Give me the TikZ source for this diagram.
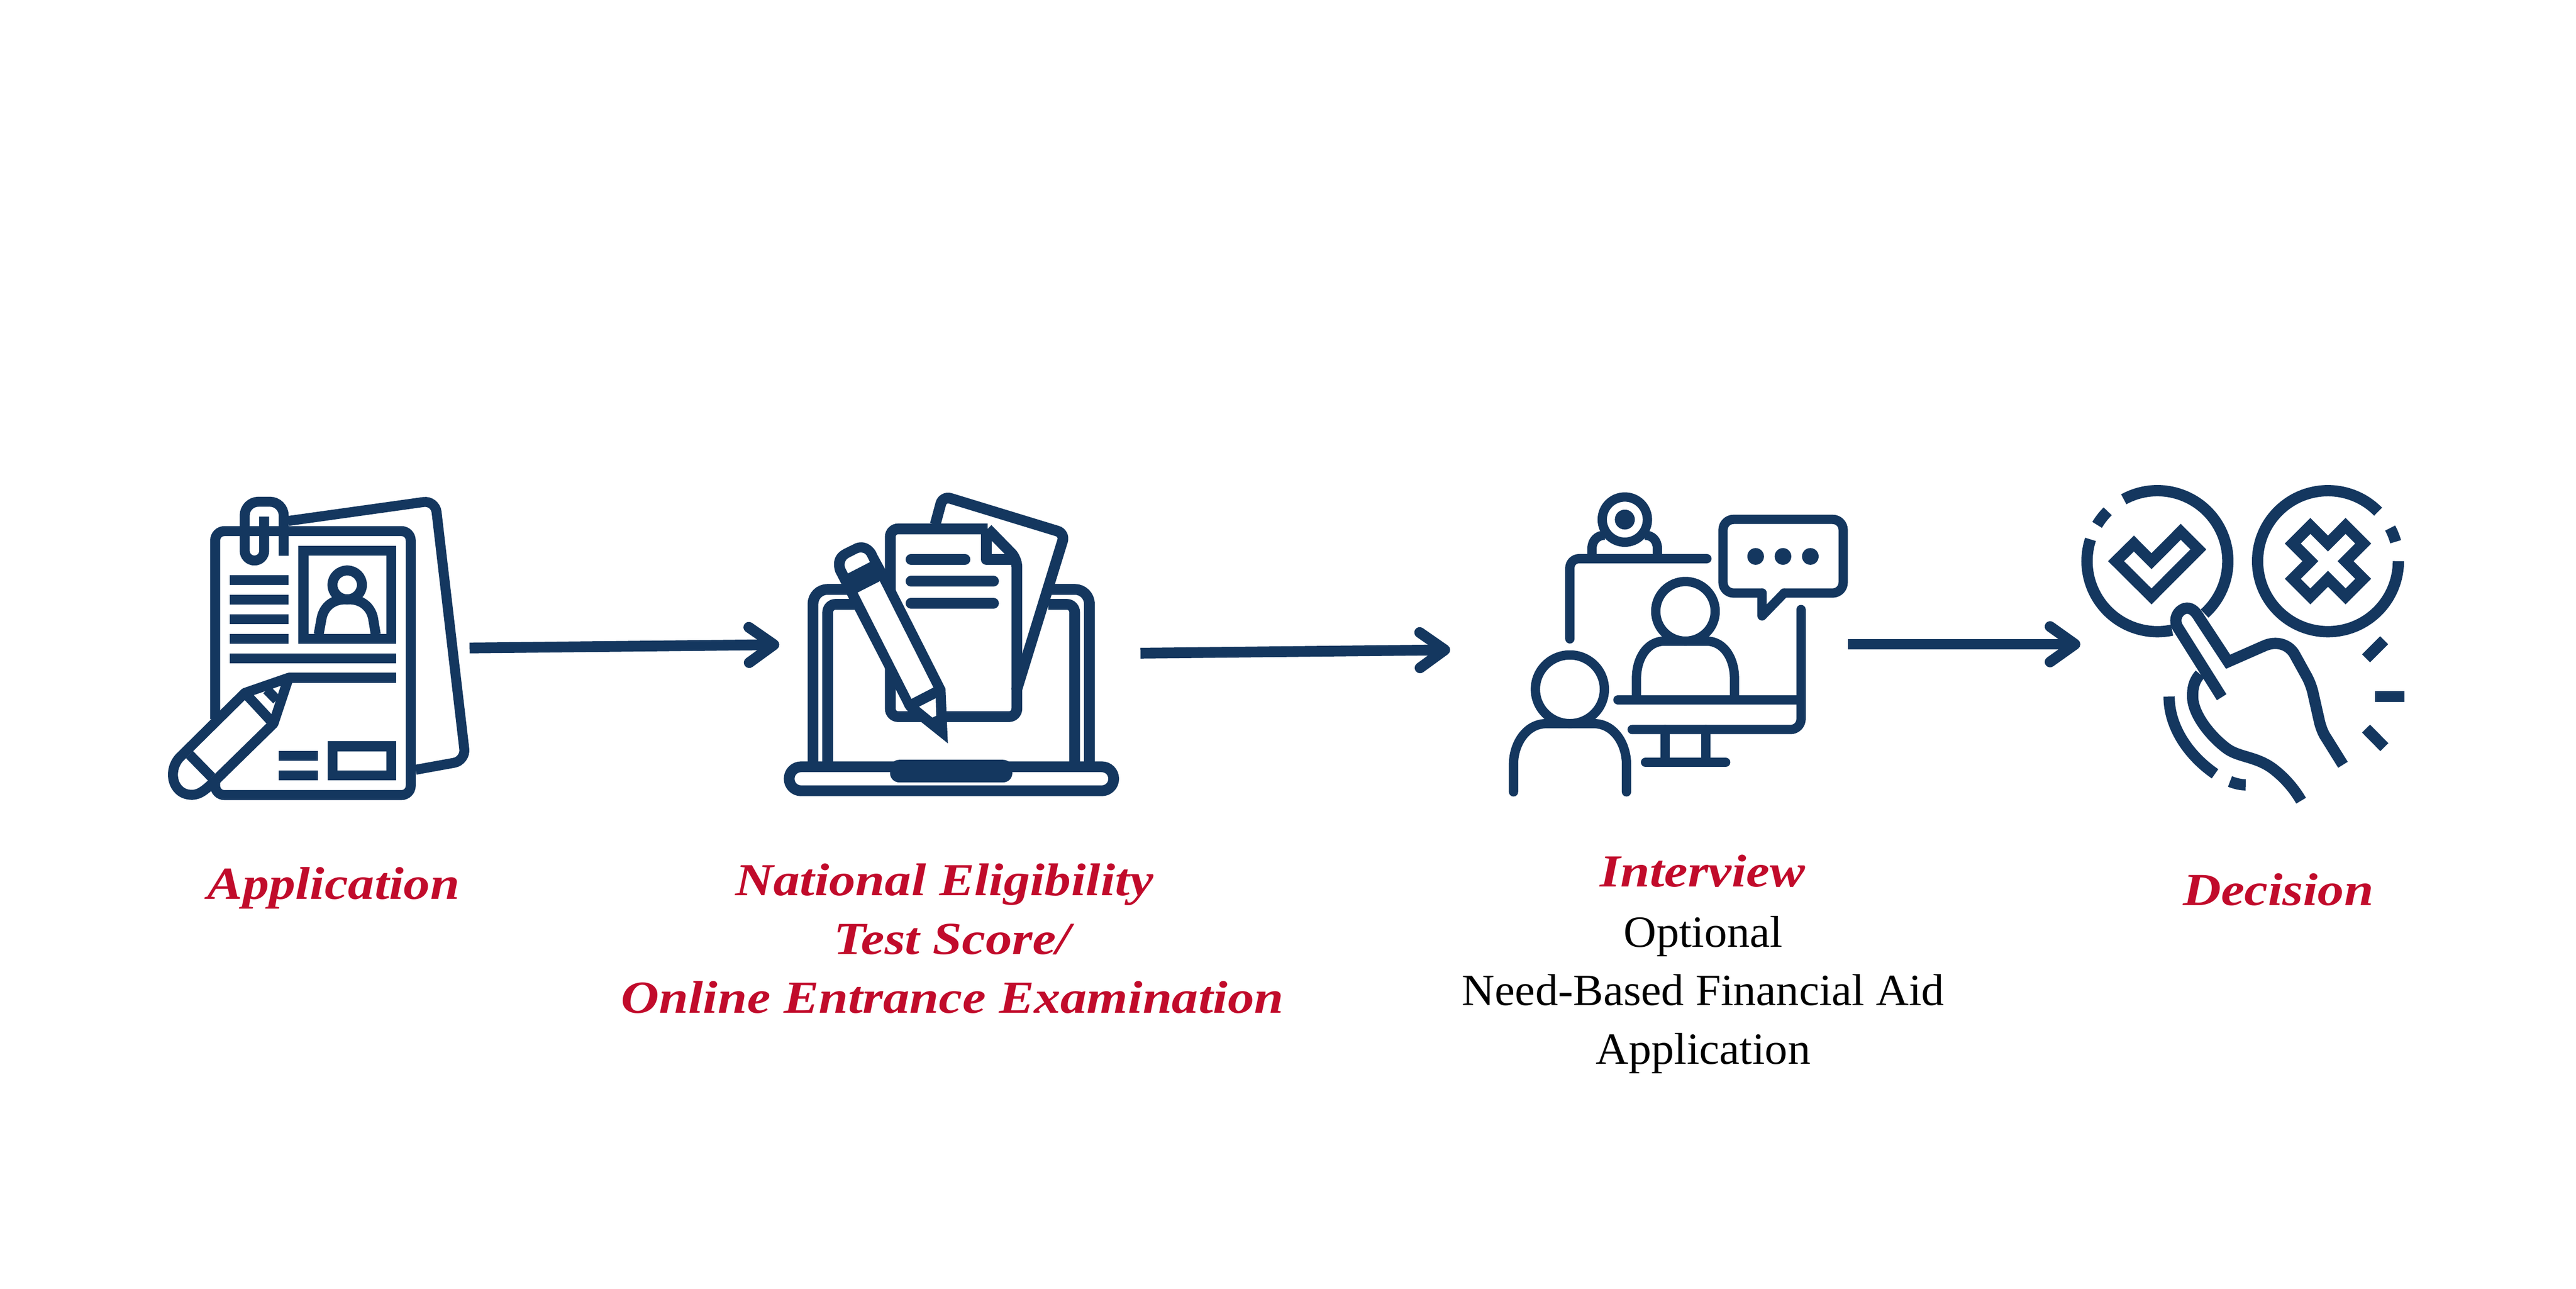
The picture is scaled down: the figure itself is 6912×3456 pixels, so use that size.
\documentclass[tikz,border=0pt]{standalone}
\usepackage{fontspec}
\setmainfont{Liberation Serif}
\newfontfamily\labelfont[FakeStretch=1.15]{Liberation Serif}
\newfontfamily\bodyfont[FakeStretch=1.02]{Liberation Serif}
\usetikzlibrary{arrows.meta}
\definecolor{navy}{HTML}{14375F}
\definecolor{redlab}{HTML}{C10B2B}
\tikzset{
  ico/.style={draw=navy,line join=miter,line cap=butt},
  flow/.style={draw=navy,line width=8.2pt,-{Straight Barb[round,length=19pt,width=27pt,line width=8.2pt]}},
  redtxt/.style={text=redlab,font=\fontsize{35}{44.7}\labelfont\selectfont\bfseries\itshape,align=center,inner sep=0pt},
  blocktxt/.style={align=center,inner sep=0pt,font=\fontsize{34}{44.7}\bodyfont\selectfont},
  zoomx/.style={x=0.0063776cm,y=-0.0060606cm}
}
\begin{document}
\begin{tikzpicture}[x=0.01cm,y=-0.01cm]
\useasboundingbox (0,0) rectangle (6912,3456);
\fill[white] (0,0) rectangle (6912,3456);

% ---------- Application icon
\begin{scope}[shift={(400,1250)},zoomx,ico,line width=7.6pt]
  \draw[rounded corners=7pt] (278,1120) -- (278,288) -- (1100,288) -- (1100,1456) -- (278,1456) -- (278,1395);
  \draw[rounded corners=9pt] (585,243) -- (1203,152) -- (1331,1304) -- (1121,1344);
  \draw[rounded corners=10.5pt] (566,397) -- (566,158) -- (402,158) -- (402,290) [rounded corners=7.4pt] -- (402,418) -- (484,418) -- (484,224);
  \draw (649,375) rectangle (1018,765);
  \draw (833,526) ellipse [x radius=62,y radius=64];
  \draw (713,745) -- (725,675) .. controls (735,620) and (775,590) .. (825,590) -- (842,590) .. controls (890,590) and (932,620) .. (942,675) -- (953,745);
  \foreach \yy in {505,591,678,765} \draw (340,\yy) -- (586,\yy);
  \draw (340,851) -- (1039,851);
  \draw (1039,937) -- (587,937);
  \draw[line join=round] (587,937) -- (403,1004) -- (135,1283) .. controls (75,1340) and (95,1455) .. (180,1455) .. controls (215,1455) and (240,1430) .. (285,1385) -- (523,1140) -- cycle;
  \draw (403,1004) -- (523,1140);
  \draw (495,990) -- (537,1035);
  \draw (170,1277) -- (263,1377);
  \draw (546,1283) -- (710,1283);
  \draw (546,1369) -- (710,1369);
  \draw (771,1240) rectangle (1018,1369);
\end{scope}

% ---------- Test icon
\begin{scope}[shift={(2050,1250)},zoomx,ico,line width=8.2pt]
  \draw[rounded corners=9pt] (106,1331) rectangle (1470,1437);
  \fill[navy,rounded corners=7pt] (530,1300) -- (530,1400) -- (1044,1400) -- (1044,1300) -- cycle;
  \draw[rounded corners=11pt] (206,1320) -- (206,546) -- (380,546);
  \draw[rounded corners=11pt] (1368,1320) -- (1368,546) -- (1205,546);
  \draw[rounded corners=6pt] (268,1320) -- (268,612) -- (390,612);
  \draw[rounded corners=6pt] (1306,1320) -- (1306,612) -- (1195,612);
  \draw[rounded corners=6pt] (720,258) -- (752,133) -- (1265,298) -- (1061,995);
  \draw[rounded corners=6pt] (940,278) -- (531,278) -- (531,1109) -- (1063,1109) -- (1063,410) -- (940,278);
  \draw[line join=round] (934,278) -- (934,413) -- (1063,413);
  \draw[line cap=round] (618,413) -- (845,413);
  \draw[line cap=round] (618,510) -- (965,510);
  \draw[line cap=round] (618,607) -- (965,607);
  % pencil
  \fill[navy] (300,470) .. controls (285,420) and (300,385) .. (340,365) -- (385,342) .. controls (430,325) and (465,360) .. (475,390) -- (507,452) -- (763,985) -- (773,1227) -- (660,1132) -- (605,1085) .. controls (595,1075) and (590,1065) .. (585,1052) -- cycle;
  \fill[white] (353,475) -- (445,425) -- (432,397) .. controls (425,383) and (405,378) .. (390,388) -- (358,405) .. controls (340,415) and (335,435) .. (342,452) -- cycle;
  \fill[white] (394,560) -- (487,510) -- (712,980) -- (620,1030) -- cycle;
  \fill[white] (652,1065) -- (722,1028) -- (724,1105) -- (708,1113) -- cycle;
\end{scope}

% ---------- Interview icon
\begin{scope}[shift={(3980,1250)},zoomx,ico,line width=7.1pt,line cap=round,line join=round]
  \draw (595,237) ellipse [x radius=95,y radius=100];
  \fill[navy] (595,237) ellipse [x radius=42,y radius=44];
  \draw[line cap=butt] (457,400) -- (457,365) .. controls (457,330) and (480,306) .. (510,306);
  \draw[line cap=butt] (732,400) -- (732,365) .. controls (732,330) and (710,306) .. (680,306);
  \draw[rounded corners=7pt] (940,410) -- (364,410) -- (364,765);
  \draw[rounded corners=8pt] (1265,562) -- (1513,562) -- (1513,236) -- (1008,236) -- (1008,562) -- (1172,562);
  \draw (1265,562) -- (1172,663) -- (1172,562);
  \foreach \xx in {1145,1260,1375} \fill[navy] (\xx,400) ellipse [x radius=35,y radius=37];
  \draw (850,643) ellipse [x radius=125,y radius=132];
  \draw (644,1030) -- (644,940) .. controls (644,850) and (690,775) .. (760,775) -- (940,775) .. controls (1010,775) and (1056,850) .. (1056,940) -- (1056,1030);
  \draw (566,1035) -- (1336,1035);
  \draw[rounded corners=8pt] (1336,635) -- (1336,1166) -- (626,1166);
  \draw (764,1166) -- (764,1311);
  \draw (936,1166) -- (936,1311);
  \draw (682,1311) -- (1019,1311);
  \draw (364,988) ellipse [x radius=145,y radius=152];
  \draw (127,1442) -- (127,1320) .. controls (127,1230) and (180,1140) .. (265,1140) -- (465,1140) .. controls (550,1140) and (602,1230) .. (602,1320) -- (602,1442);
\end{scope}

% ---------- Decision icon
\begin{scope}[shift={(5480,1250)},zoomx,ico,line width=8.6pt]
  \draw (484,421) ++(-118.6:296 and 312) arc [start angle=-118.6,end angle=48,x radius=296,y radius=312];
  \draw (484,421) ++(198:296 and 312) arc [start angle=198,end angle=78,x radius=296,y radius=312];
  \draw (484,421) ++(225:296 and 312) arc [start angle=225,end angle=211,x radius=296,y radius=312];
  \draw (1201,421) ++(-44.6:296 and 312) arc [start angle=-44.6,end angle=-360,x radius=296,y radius=312];
  \draw (1201,421) ++(-28:296 and 312) arc [start angle=-28,end angle=-16,x radius=296,y radius=312];
  \draw (310,421) -- (385,343) -- (459,421) -- (582,291) -- (656,369) -- (459,577) -- cycle;
  \draw (1127,265) -- (1201,343) -- (1275,265) -- (1349,343) -- (1275,421) -- (1349,499) -- (1275,577) -- (1201,499) -- (1127,577) -- (1053,499) -- (1127,421) -- (1053,343) -- cycle;
  \draw (754,1023) -- (570,715) .. controls (545,670) and (580,629) .. (608,629) .. controls (630,629) and (645,645) .. (660,672) -- (781,866) -- (930,797) .. controls (985,770) and (1040,790) .. (1063,838) -- (1107,922) .. controls (1125,955) and (1130,975) .. (1136,995) -- (1166,1135) .. controls (1175,1170) and (1185,1190) .. (1193,1202) -- (1264,1322);
  \draw (663,921) .. controls (635,955) and (632,985) .. (632,1020) .. controls (632,1100) and (710,1200) .. (778,1252) .. controls (830,1290) and (900,1285) .. (970,1340) .. controls (1020,1380) and (1060,1430) .. (1088,1481);
  \draw (533,1020) .. controls (533,1160) and (620,1285) .. (726,1362);
  \draw (789,1396) .. controls (810,1405) and (835,1411) .. (855,1411);
  \draw (1437,771) -- (1361,851);
  \draw (1399,1020) -- (1522,1020);
  \draw (1361,1162) -- (1438,1244);
\end{scope}

% ---------- connectors
\coordinate (appOut) at (1260,1738);
\coordinate (testIn) at (2091,1729);
\coordinate (testOut) at (3060,1752);
\coordinate (intIn) at (3891,1743);
\coordinate (intOut) at (4958,1728);
\coordinate (decIn) at (5582,1728);
\draw[flow] (appOut) -- (testIn);
\draw[flow] (testOut) -- (intIn);
\draw[flow] (intOut) -- (decIn);

% ---------- labels
\node[redtxt,anchor=base] (lblApp) at (895,2411) {Application};
\node[redtxt,anchor=north] (lblTest) at (2555,2316) {National Eligibility\hspace*{12pt}\\Test Score/\\Online Entrance Examination};
\node[redtxt,anchor=base] (lblInt) at (4568,2379) {Interview};
\node[blocktxt,anchor=north] (lblAid) at (4570,2456) {Optional\\Need-Based Financial Aid\\Application};
\node[redtxt,anchor=base] (lblDec) at (6113,2428) {Decision};
\end{tikzpicture}
\end{document}
